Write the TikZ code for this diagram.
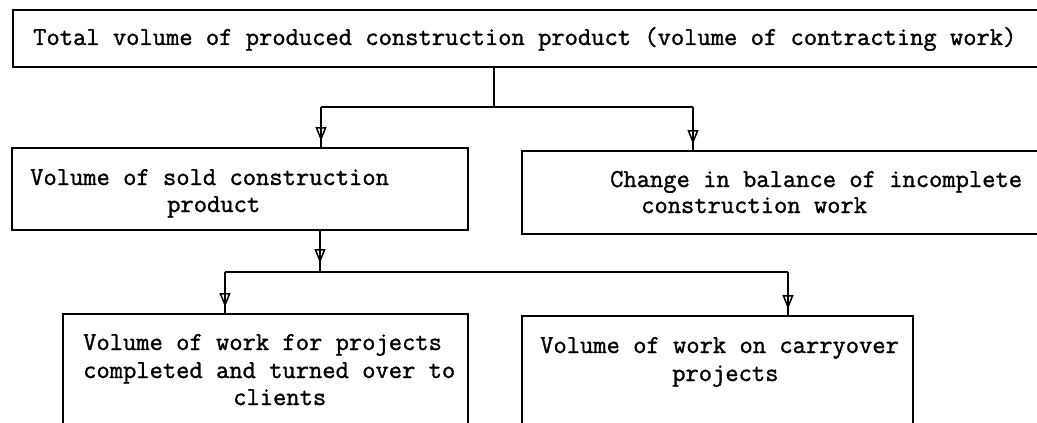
\documentclass[tikz,border=0pt]{standalone}
\usepackage{fontspec}
\newfontfamily\twfont{Latin Modern Mono}[FakeBold=1.2]
\usetikzlibrary{arrows.meta,decorations.markings}
\begin{document}
\begin{tikzpicture}[x=1pt,y=-1pt,
  box/.style={draw=black,line width=1.6pt,rectangle,inner sep=0pt,anchor=north west},
  conn/.style={draw=black,line width=1.4pt},
  arrmark/.style={conn,postaction={decorate},decoration={markings,
     mark=at position -#1 with {\arrow{Triangle[open,length=14pt,width=11pt,line width=1.5pt]}}}},
  arrmark/.default=6pt,
  txt/.style={anchor=base west,inner sep=0pt,font=\fontsize{25.8}{27}\selectfont\twfont}]
\useasboundingbox (0,0) rectangle (1037,423);
\clip (0,0) rectangle (1037,423);
\fill[white] (0,0) rectangle (1037,423);
% boxes
\node[box,minimum width=1040pt,minimum height=57pt] (top) at (12,9) {};
\node[box,minimum width=456pt,minimum height=82pt] (ml) at (11,147) {};
\node[box,minimum width=530pt,minimum height=83pt] (mr) at (521,150) {};
\node[box,minimum width=405pt,minimum height=130pt] (bl) at (62,313) {};
\node[box,minimum width=391pt,minimum height=130pt] (br) at (521,315) {};
% texts
\node[txt] (t0) at (33,45) {Total volume of produced construction product (volume of contracting work)};
\node[txt] (t1) at (30,185) {Volume of sold construction};
\node[txt] (t2) at (167,212) {product};
\node[txt] (t3) at (610,187) {Change in balance of incomplete};
\node[txt] (t4) at (641,213) {construction work};
\node[txt] (t5) at (83,350) {Volume of work for projects};
\node[txt] (t6) at (83,378) {completed and turned over to};
\node[txt] (t7) at (233,405) {clients};
\node[txt] (t8) at (540,353) {Volume of work on carryover};
\node[txt] (t9) at (672,381) {projects};
% connectors
\coordinate (j1) at (494,107);
\coordinate (a1) at (321,107);
\coordinate (a2) at (693,107);
\draw[conn] (top.south -| j1) -- (j1);
\draw[conn] (a1) -- (a2);
\draw[arrmark] (a1) -- (a1 |- ml.north);
\draw[arrmark] (a2) -- (a2 |- mr.north);
\coordinate (j2) at (320,272);
\coordinate (b1) at (225,272);
\coordinate (b2) at (788,272);
\draw[arrmark=9pt] (ml.south -| j2) -- (j2);
\draw[conn] (b1) -- (b2);
\draw[arrmark] (b1) -- (b1 |- bl.north);
\draw[arrmark] (b2) -- (b2 |- br.north);
\end{tikzpicture}
\end{document}
